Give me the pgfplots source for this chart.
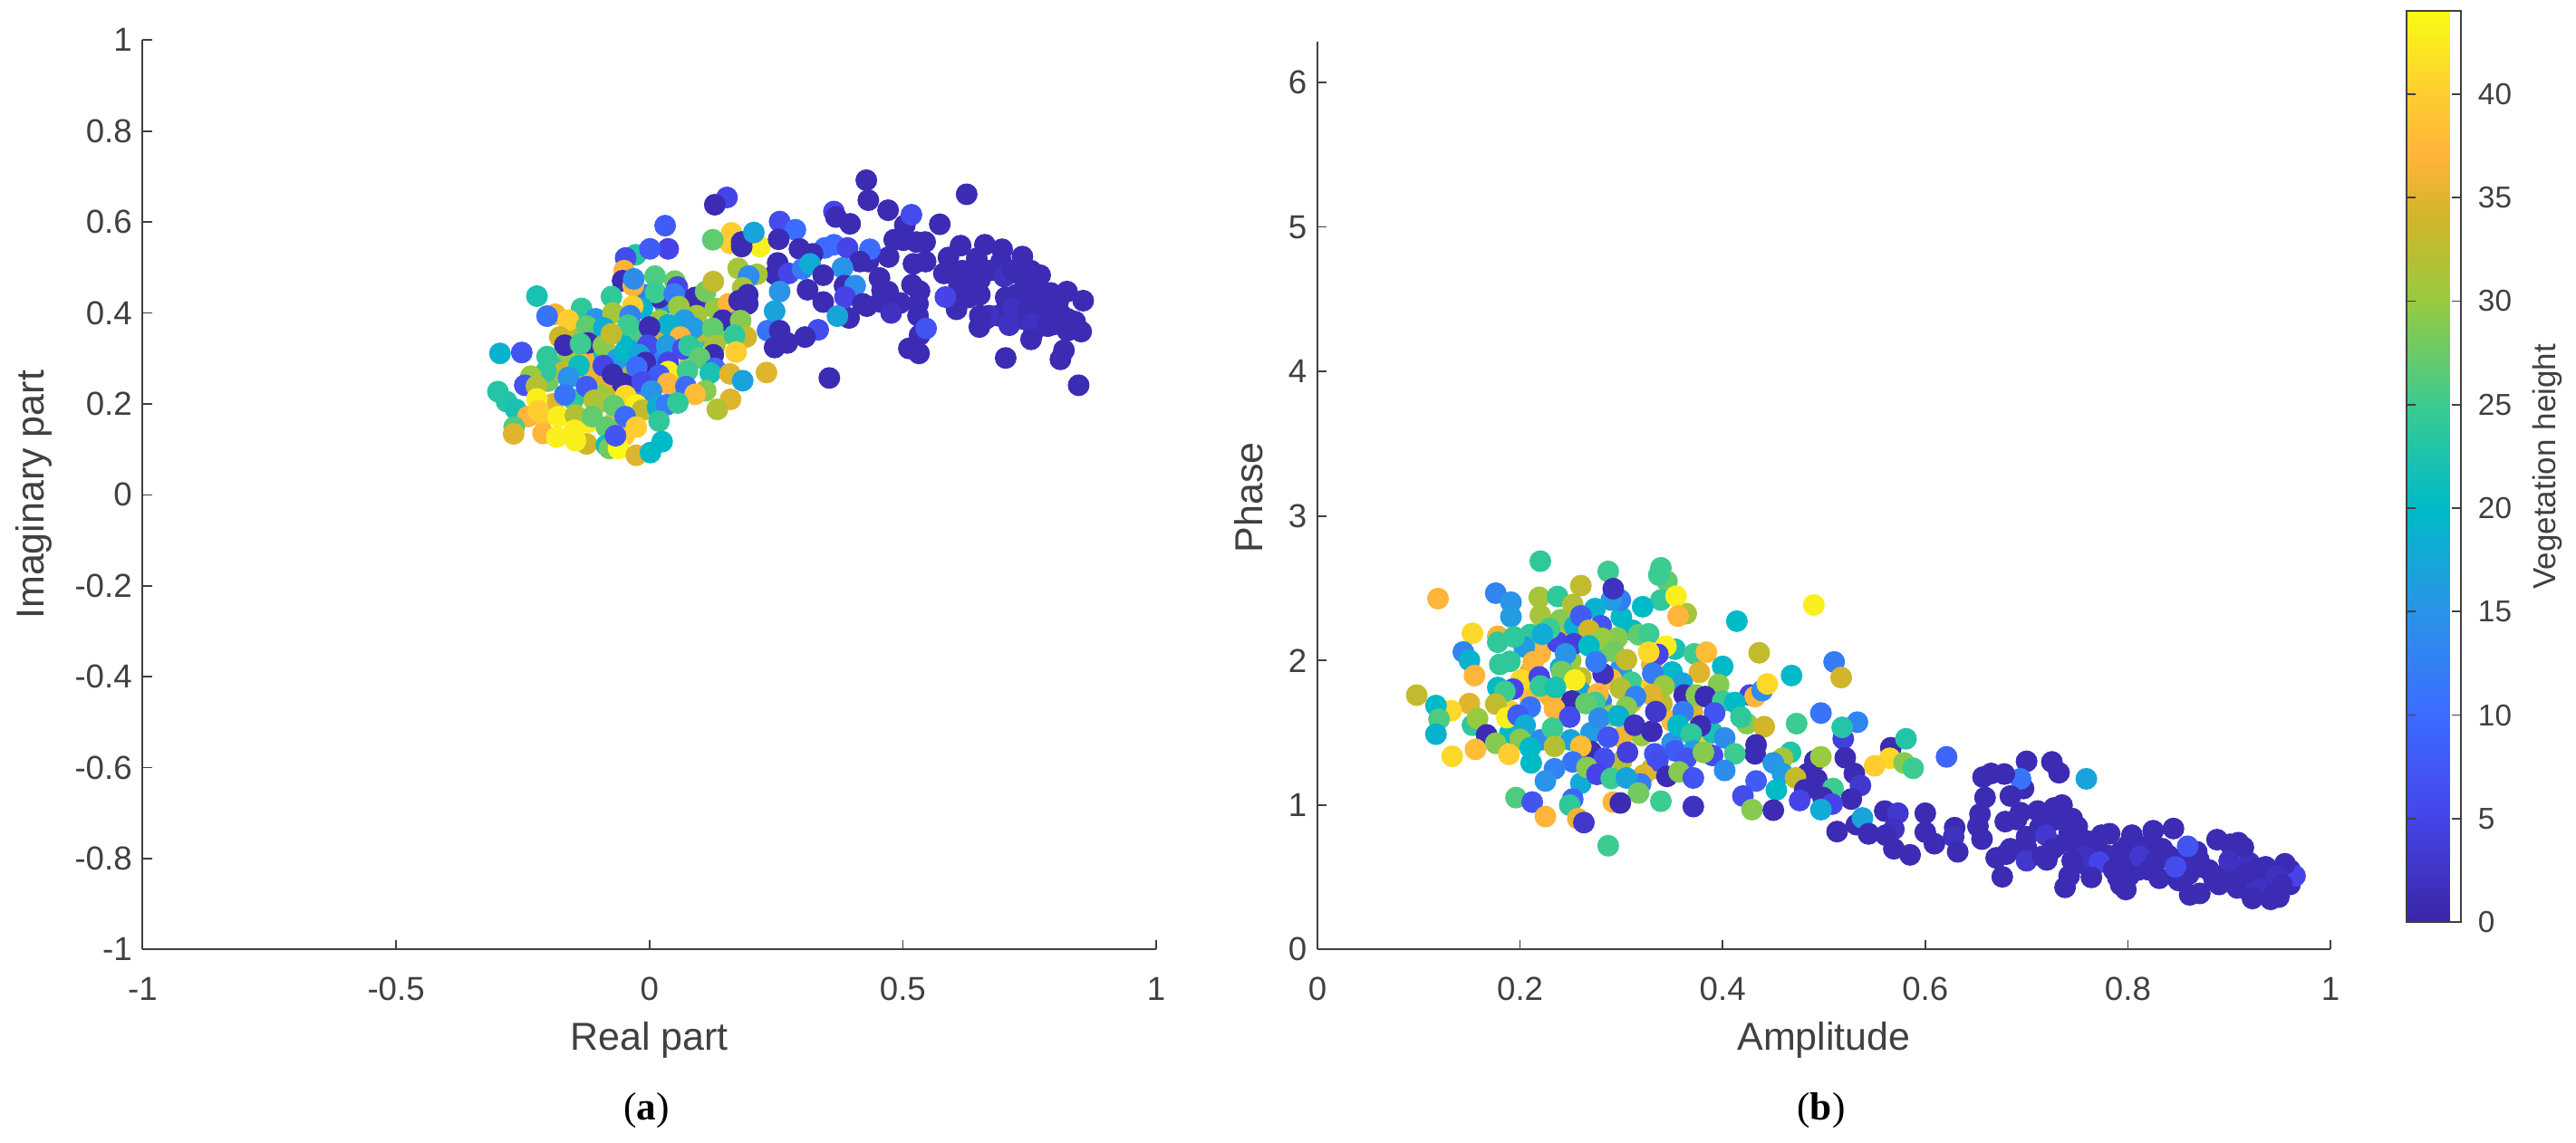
\documentclass[border=0pt]{standalone}
\usepackage{fontspec}
\setmainfont{Liberation Sans}
\newfontfamily\capfont{Liberation Serif}
\usepackage{pgfplots}
\usepackage{pgfplotstable}
\pgfplotsset{compat=1.18}

\definecolor{axgray}{RGB}{64,64,64}

% Real part, imaginary part, vegetation height
\pgfplotstableread{
x y z
-0.10 0.30 20
-0.13 0.30 36
-0.16 0.30 30
-0.19 0.28 24
-0.20 0.25 28
-0.17 0.27 33
-0.14 0.26 30
-0.11 0.27 36
-0.08 0.31 38
-0.05 0.28 30
-0.03 0.33 16
-0.05 0.35 20
-0.02 0.36 26
0.02 0.35 33
0.05 0.33 15
0.09 0.34 24
0.10 0.36 33
0.08 0.30 36
0.05 0.25 30
0.03 0.31 40
0.01 0.30 12
-0.11 0.34 24
-0.15 0.35 32
-0.09 0.24 35
-0.06 0.23 33
-0.10 0.22 30
-0.15 0.21 24
-0.19 0.20 35
-0.12 0.16 43
-0.07 0.16 38
-0.03 0.22 12
0.00 0.20 24
0.06 0.22 29
-0.21 0.17 40
-0.05 0.13 40
0.08 0.40 15
0.03 0.42 16
0.10 0.43 3
0.13 0.41 30
0.14 0.35 30
0.05 0.47 28
-0.01 0.44 12
-0.02 0.25 2
0.652 0.473 1
0.631 0.493 1
0.694 0.513 1
0.712 0.487 1
0.742 0.460 1
0.724 0.440 1
0.706 0.414 1
0.748 0.427 1
0.771 0.427 1
0.789 0.394 1
0.807 0.427 1
0.759 0.394 1
0.736 0.387 1
0.688 0.394 1
0.664 0.387 1
0.825 0.387 1
0.795 0.374 1
0.759 0.361 1
0.629 0.434 1
0.611 0.440 1
0.596 0.487 1
0.428 0.692 1
0.432 0.648 1
0.471 0.626 1
0.504 0.593 1
0.517 0.616 6
0.573 0.595 1
0.626 0.661 1
0.483 0.561 1
0.501 0.560 1
0.527 0.556 1
0.544 0.556 1
0.614 0.548 1
0.662 0.550 1
0.696 0.540 1
0.736 0.524 1
0.472 0.523 1
0.432 0.513 1
0.435 0.540 10
0.521 0.508 1
0.545 0.513 1
0.590 0.522 1
0.581 0.487 1
0.617 0.493 1
0.646 0.520 1
0.670 0.493 1
0.700 0.480 2
0.718 0.493 1
0.753 0.493 1
0.771 0.483 1
0.454 0.477 1
0.518 0.462 1
0.533 0.448 1
0.459 0.450 1
0.471 0.447 1
0.629 0.467 1
0.611 0.460 1
0.652 0.440 1
0.703 0.434 1
0.736 0.447 1
0.765 0.447 1
0.792 0.444 1
0.824 0.447 1
0.856 0.427 1
0.429 0.415 1
0.456 0.424 1
0.495 0.422 1
0.477 0.400 2
0.530 0.420 1
0.530 0.394 1
0.606 0.408 1
0.670 0.394 2
0.652 0.394 1
0.718 0.410 2
0.748 0.407 1
0.786 0.414 1
0.810 0.400 1
0.840 0.381 1
0.651 0.369 1
0.710 0.373 2
0.755 0.377 2
0.786 0.371 1
0.852 0.359 1
0.825 0.361 1
0.584 0.435 5
0.533 0.351 1
0.512 0.322 1
0.532 0.311 1
0.546 0.366 7
0.753 0.342 1
0.818 0.318 1
0.811 0.298 1
0.703 0.301 1
0.847 0.241 1
0.162 0.576 40
0.159 0.553 40
0.218 0.546 43
0.153 0.654 5
0.129 0.638 1
0.031 0.592 8
0.125 0.561 27
0.182 0.556 1
0.182 0.546 1
0.206 0.577 17
0.257 0.601 6
0.288 0.583 10
0.255 0.562 1
0.037 0.541 5
-0.027 0.528 23
0.001 0.541 8
-0.047 0.521 6
0.296 0.541 1
0.364 0.623 5
0.368 0.611 1
0.396 0.596 1
0.346 0.543 10
0.364 0.550 10
0.391 0.543 5
0.322 0.530 1
0.415 0.513 1
0.253 0.510 1
0.248 0.485 1
0.275 0.487 5
0.302 0.497 12
0.317 0.508 18
0.381 0.499 15
0.343 0.483 1
0.175 0.498 31
0.212 0.485 31
0.196 0.481 14
-0.050 0.493 37
-0.053 0.471 1
-0.032 0.460 37
-0.031 0.475 14
0.055 0.457 5
0.011 0.481 26
0.090 0.434 1
0.111 0.447 28
0.126 0.469 33
0.184 0.455 31
0.194 0.440 1
0.257 0.447 15
0.312 0.451 1
0.385 0.460 1
0.406 0.460 14
0.019 0.434 1
0.012 0.445 25
0.049 0.442 12
-0.075 0.436 24
-0.222 0.437 22
0.156 0.420 37
0.177 0.427 1
0.194 0.420 1
0.343 0.424 1
0.386 0.435 5
0.421 0.420 1
-0.014 0.410 19
-0.033 0.415 40
0.058 0.414 30
-0.134 0.410 24
-0.186 0.397 36
-0.202 0.393 11
-0.160 0.384 40
-0.106 0.387 15
-0.072 0.400 31
-0.038 0.394 13
0.247 0.404 17
0.394 0.389 1
0.371 0.393 17
0.174 0.381 12
0.145 0.384 1
0.180 0.383 29
0.021 0.384 30
0.093 0.394 31
0.069 0.384 16
0.037 0.374 19
0.000 0.369 1
-0.042 0.373 25
-0.124 0.371 27
-0.090 0.367 18
0.087 0.367 16
0.125 0.366 27
0.233 0.361 11
0.257 0.361 1
0.333 0.363 6
0.307 0.347 1
0.272 0.334 1
0.247 0.324 1
0.191 0.347 34
0.168 0.351 24
-0.177 0.347 34
-0.167 0.329 1
-0.121 0.334 1
-0.136 0.332 25
-0.091 0.328 29
-0.075 0.354 33
0.061 0.347 37
-0.003 0.329 6
0.034 0.328 16
0.129 0.328 31
0.171 0.314 40
-0.252 0.313 7
-0.295 0.311 19
-0.202 0.304 24
-0.064 0.298 16
-0.048 0.316 20
0.066 0.321 6
0.078 0.328 24
-0.020 0.308 17
0.126 0.308 1
0.099 0.301 27
-0.091 0.284 5
-0.139 0.284 21
-0.073 0.265 1
-0.008 0.291 1
0.037 0.291 5
-0.025 0.281 10
0.129 0.278 10
0.120 0.268 22
0.037 0.271 43
0.019 0.263 8
0.075 0.273 25
-0.204 0.272 24
0.159 0.266 35
0.184 0.251 17
0.231 0.269 35
0.355 0.257 1
-0.160 0.258 15
-0.234 0.261 30
-0.246 0.241 7
-0.223 0.239 32
-0.124 0.238 8
-0.167 0.220 11
0.036 0.245 37
0.072 0.238 10
-0.053 0.245 1
-0.014 0.248 6
0.111 0.229 29
0.090 0.221 38
0.004 0.228 15
-0.299 0.227 23
-0.282 0.205 23
-0.264 0.188 22
-0.240 0.172 37
-0.222 0.211 43
-0.219 0.185 40
-0.180 0.172 43
-0.146 0.175 32
-0.109 0.208 32
-0.091 0.205 31
-0.047 0.218 41
-0.026 0.198 43
-0.014 0.186 33
-0.070 0.196 27
0.016 0.192 19
0.034 0.198 12
0.056 0.202 24
0.160 0.210 35
0.134 0.188 32
-0.048 0.172 10
-0.113 0.172 27
0.019 0.162 24
-0.026 0.149 40
-0.085 0.149 27
-0.267 0.149 26
-0.268 0.134 35
-0.210 0.135 37
-0.124 0.112 34
-0.183 0.127 43
-0.148 0.142 43
-0.146 0.119 43
-0.085 0.109 21
-0.079 0.102 28
-0.061 0.102 44
-0.067 0.130 7
-0.026 0.087 35
0.025 0.117 20
0.002 0.093 20
}\complexdata

% Amplitude, phase, vegetation height
\pgfplotstableread{
x y z
0.22 2.05 37
0.25 2.00 30
0.28 2.05 25
0.30 1.95 15
0.33 1.97 36
0.35 1.92 20
0.24 1.95 18
0.21 1.92 35
0.26 1.88 33
0.29 1.87 38
0.31 1.85 25
0.33 1.83 40
0.28 1.72 12
0.26 1.78 17
0.23 1.75 36
0.21 1.74 38
0.24 1.66 33
0.29 1.62 30
0.31 1.71 35
0.34 1.70 33
0.37 1.65 35
0.35 1.58 38
0.32 1.48 30
0.30 1.47 36
0.27 1.50 16
0.25 1.45 17
0.22 1.45 14
0.38 1.45 40
0.35 1.43 15
0.39 1.50 22
0.27 1.37 1
0.30 1.30 32
0.33 1.25 33
0.28 1.27 10
0.26 1.15 18
0.19 1.50 20
0.21 2.18 24
0.30 2.30 20
0.24 2.18 33
0.19 1.65 40
0.72 0.86 1
0.70 0.78 1
0.73 0.72 1
0.75 0.68 1
0.76 0.58 1
0.78 0.65 1
0.80 0.60 1
0.81 0.55 1
0.79 0.50 1
0.84 0.65 1
0.85 0.62 1
0.87 0.62 1
0.86 0.52 1
0.88 0.55 1
0.90 0.55 1
0.92 0.60 2
0.91 0.48 1
0.89 0.45 1
0.93 0.50 1
0.96 0.55 1
0.94 0.43 1
0.92 0.40 1
0.96 0.45 1
0.77 0.70 1
0.80 0.72 1
0.82 0.72 1
0.86 0.70 1
0.70 0.70 1
0.72 0.62 1
0.68 0.66 1
0.76 0.75 1
0.69 0.90 1
0.73 0.90 1
0.75 0.85 1
0.566 1.396 1
0.581 1.458 23
0.565 1.323 41
0.550 1.271 40
0.579 1.291 29
0.588 1.254 25
0.621 1.333 9
0.700 1.302 1
0.725 1.298 1
0.732 1.223 1
0.759 1.181 17
0.697 1.114 1
0.694 1.181 11
0.657 1.193 1
0.665 1.218 1
0.678 1.214 1
0.684 1.062 1
0.659 1.052 1
0.560 0.958 1
0.573 0.943 3
0.600 0.943 1
0.654 0.937 1
0.679 0.885 1
0.694 0.947 1
0.711 0.958 1
0.735 0.999 1
0.727 0.979 1
0.745 0.906 1
0.569 0.833 2
0.544 0.801 1
0.561 0.791 1
0.600 0.812 1
0.629 0.843 1
0.628 0.780 2
0.609 0.732 1
0.652 0.853 1
0.656 0.764 1
0.713 0.843 1
0.719 0.791 3
0.742 0.801 1
0.745 0.739 1
0.569 0.697 1
0.585 0.655 1
0.632 0.676 1
0.684 0.697 1
0.670 0.634 1
0.700 0.614 3
0.716 0.645 1
0.726 0.697 1
0.676 0.503 1
0.774 0.791 1
0.782 0.801 1
0.804 0.791 1
0.825 0.822 1
0.845 0.837 1
0.888 0.760 1
0.901 0.728 1
0.909 0.739 1
0.914 0.707 1
0.868 0.676 1
0.834 0.697 1
0.758 0.645 2
0.772 0.603 5
0.793 0.676 1
0.812 0.645 3
0.828 0.614 1
0.745 0.614 1
0.742 0.509 1
0.764 0.499 1
0.738 0.430 1
0.786 0.551 1
0.801 0.509 1
0.793 0.447 1
0.798 0.415 1
0.821 0.551 1
0.831 0.493 1
0.850 0.478 1
0.847 0.572 6
0.871 0.572 1
0.885 0.488 1
0.900 0.614 2
0.861 0.378 1
0.871 0.388 1
0.908 0.426 1
0.927 0.447 2
0.923 0.353 1
0.941 0.347 1
0.949 0.363 1
0.965 0.509 5
0.936 0.572 1
0.955 0.593 1
0.947 0.509 2
0.917 0.530 1
0.928 0.561 1
0.952 0.447 1
0.859 0.714 7
0.098 1.760 33
0.119 2.428 37
0.176 2.466 13
0.191 2.403 15
0.191 2.303 16
0.219 2.437 31
0.237 2.443 24
0.220 2.687 24
0.287 2.616 25
0.260 2.518 33
0.339 2.641 25
0.345 2.549 27
0.337 2.591 25
0.299 2.418 12
0.290 2.418 16
0.292 2.497 2
0.339 2.418 24
0.364 2.324 31
0.354 2.445 43
0.321 2.372 20
0.274 2.359 19
0.252 2.386 32
0.220 2.313 31
0.240 2.282 29
0.280 2.240 7
0.254 2.236 19
0.260 2.309 8
0.356 2.307 37
0.414 2.272 20
0.490 2.384 43
0.178 2.167 36
0.153 2.188 41
0.144 2.059 13
0.150 2.001 19
0.178 2.126 24
0.204 2.094 16
0.194 2.163 24
0.237 2.126 5
0.229 2.220 25
0.222 2.182 18
0.268 2.209 34
0.311 2.209 20
0.317 2.178 27
0.327 2.184 25
0.353 2.078 22
0.344 2.099 43
0.296 2.157 29
0.281 2.153 30
0.253 2.115 4
0.268 2.101 20
0.245 2.046 15
0.292 2.063 28
0.436 2.053 33
0.305 2.005 33
0.336 2.042 5
0.327 2.057 41
0.372 2.046 25
0.384 2.057 38
0.155 1.896 37
0.213 1.990 37
0.180 1.973 24
0.190 1.994 24
0.282 1.907 2
0.275 1.990 12
0.241 1.923 28
0.331 1.911 12
0.510 1.990 12
0.517 1.882 34
0.377 1.917 35
0.400 1.959 20
0.468 1.896 20
0.254 1.865 43
0.360 1.844 17
0.396 1.834 29
0.427 1.761 5
0.432 1.750 37
0.439 1.792 14
0.444 1.838 41
0.201 1.865 41
0.193 1.802 5
0.178 1.813 20
0.185 1.786 25
0.219 1.886 5
0.220 1.823 24
0.235 1.813 22
0.342 1.823 30
0.299 1.807 32
0.277 1.771 37
0.330 1.761 35
0.314 1.750 13
0.362 1.761 1
0.374 1.761 29
0.383 1.750 1
0.400 1.719 25
0.412 1.709 20
0.251 1.719 1
0.274 1.709 25
0.265 1.702 27
0.305 1.677 29
0.150 1.702 35
0.176 1.698 33
0.132 1.652 41
0.117 1.688 20
0.120 1.594 26
0.153 1.552 24
0.158 1.598 30
0.210 1.677 11
0.187 1.604 43
0.198 1.621 8
0.234 1.667 37
0.249 1.608 6
0.278 1.600 14
0.297 1.615 19
0.313 1.552 2
0.330 1.510 1
0.334 1.646 3
0.361 1.646 12
0.392 1.636 7
0.378 1.548 1
0.424 1.563 29
0.418 1.608 24
0.441 1.542 34
0.473 1.563 25
0.497 1.636 11
0.533 1.573 13
0.519 1.458 4
0.518 1.537 23
0.205 1.552 18
0.232 1.531 25
0.287 1.469 7
0.356 1.552 20
0.369 1.490 24
0.402 1.464 14
0.117 1.490 19
0.167 1.485 1
0.176 1.427 29
0.200 1.454 29
0.133 1.337 41
0.156 1.385 38
0.189 1.350 40
0.210 1.396 20
0.260 1.406 38
0.234 1.406 32
0.433 1.416 1
0.432 1.354 1
0.412 1.354 25
0.467 1.364 23
0.353 1.375 8
0.371 1.375 16
0.364 1.323 7
0.390 1.343 6
0.381 1.364 29
0.306 1.364 4
0.333 1.354 7
0.336 1.306 6
0.491 1.306 1
0.497 1.333 30
0.459 1.323 31
0.521 1.327 1
0.211 1.291 20
0.252 1.298 11
0.283 1.323 6
0.266 1.260 29
0.322 1.208 35
0.234 1.250 13
0.450 1.291 15
0.484 1.218 1
0.459 1.218 16
0.402 1.239 14
0.345 1.198 1
0.357 1.229 29
0.371 1.187 7
0.225 1.166 15
0.276 1.212 5
0.290 1.183 25
0.319 1.145 12
0.305 1.187 17
0.433 1.166 8
0.472 1.187 33
0.530 1.218 1
0.536 1.135 3
0.493 1.177 1
0.481 1.104 1
0.453 1.104 20
0.420 1.062 6
0.509 1.114 25
0.499 1.051 1
0.527 1.041 1
0.476 1.031 5
0.508 1.006 5
0.196 1.051 26
0.212 1.020 7
0.252 1.041 9
0.249 0.999 24
0.317 1.083 28
0.339 1.026 25
0.371 0.989 2
0.292 1.020 37
0.299 1.014 1
0.225 0.920 37
0.257 0.905 36
0.263 0.878 3
0.429 0.968 29
0.450 0.964 1
0.497 0.968 18
0.287 0.718 25
0.513 0.816 1
0.532 0.864 1
0.538 0.910 17
0.544 0.801 1
}\polardata

\pgfplotsset{
  common/.style={
    scale only axis,
    anchor=south west,
    axis x line*=bottom,
    axis y line*=left,
    axis line style={axgray,line width=0.6pt,-},
    every tick/.style={axgray,line width=0.5pt},
    tick align=inside,
    major tick length=3pt,
    tick label style={font=\fontsize{11}{13}\selectfont,text=axgray},
    xticklabel style={yshift=-5.7pt},
    label style={font=\fontsize{12.9}{15}\selectfont,text=axgray},
    /pgf/number format/assume math mode=true,
    /pgf/number format/fixed,
    colormap={veg}{
      rgb255(0pt)=(58,38,166);
      rgb255(5pt)=(70,68,232);
      rgb255(10pt)=(60,108,255);
      rgb255(15pt)=(42,148,232);
      rgb255(20pt)=(0,186,200);
      rgb255(25pt)=(60,203,144);
      rgb255(30pt)=(152,202,64);
      rgb255(34pt)=(208,182,40);
      rgb255(37pt)=(255,180,58);
      rgb255(40pt)=(255,205,48);
      rgb255(44pt)=(249,251,21)
    },
    point meta min=0,
    point meta max=44,
  },
  dots/.style={
    scatter,
    only marks,
    mark=*,
    mark size=3.4pt,
    scatter src=explicit,
    scatter/use mapped color={draw=mapped color,fill=mapped color},
  },
}

\begin{document}
\begin{tikzpicture}
\path[use as bounding box] (0,0) rectangle (852.9pt,378.3pt);

\begin{axis}[
  common,
  at={(47.25pt,63.8pt)},
  width=335.55pt,
  height=301.2pt,
  xmin=-1, xmax=1,
  ymin=-1, ymax=1,
  xtick={-1,-0.5,0,0.5,1},
  ytick={-1,-0.8,-0.6,-0.4,-0.2,0,0.2,0.4,0.6,0.8,1},
  xlabel={Real part},
  ylabel={Imaginary part},
  xlabel style={at={(axis description cs:0.5,-0.0994)},anchor=center},
  ylabel style={at={(axis description cs:-0.107,0.5)},anchor=center},
]
\addplot[dots] table[x=x,y=y,meta=z] {\complexdata};
\end{axis}

\begin{axis}[
  common,
  at={(436.2pt,63.8pt)},
  width=335.4pt,
  height=300.6pt,
  xmin=0, xmax=1,
  ymin=0, ymax=6.28,
  xtick={0,0.2,0.4,0.6,0.8,1},
  ytick={0,1,2,3,4,5,6},
  xlabel={Amplitude},
  ylabel={Phase},
  xlabel style={at={(axis description cs:0.5,-0.0998)},anchor=center},
  ylabel style={at={(axis description cs:-0.068,0.498)},anchor=center},
  colorbar,
  colorbar style={
    at={(1.075,0.03)},
    anchor=south west,
    width=18pt,
    height=301.8pt,
    scale only axis,
    axis on top,
    axis line style={draw=axgray,line width=0.5pt},
    ytick={0,5,...,40},
    yticklabel pos=right,
    tick align=inside,
    major tick length=3pt,
    every tick/.style={axgray,line width=0.5pt},
    tick label style={font=\fontsize{10}{12}\selectfont,text=axgray},
    yticklabel style={xshift=2.2pt},
    /pgf/number format/assume math mode=true,
    ylabel={Vegetation height},
    ylabel style={at={(axis description cs:2.6,0.5)},anchor=center,font=\fontsize{10.5}{12}\selectfont,text=axgray},
  },
]
\addplot[dots] table[x=x,y=y,meta=z] {\polardata};
\end{axis}

\node[font=\capfont\fontsize{13}{15}\selectfont] at (214pt,10.5pt) {(\textbf{a})};
\node[font=\capfont\fontsize{13}{15}\selectfont] at (603pt,10.5pt) {(\textbf{b})};
\end{tikzpicture}
\end{document}
